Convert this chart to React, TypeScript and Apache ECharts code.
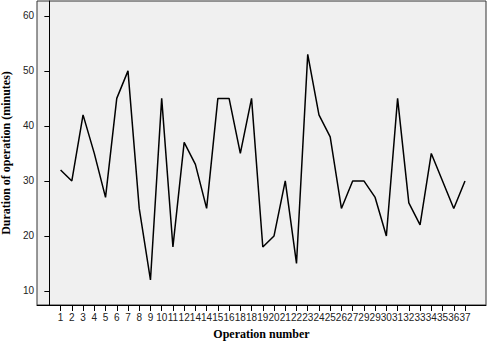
import React, { useEffect, useRef } from "react";
import * as echarts from "echarts";

const tickLabels = ["1","2","3","4","5","6","7","8","9","10","11","12","14","14","15","16","18","18","19","20","21","22","23","24","25","26","27","29","29","30","31","32","33","34","35","36","37"];
const durations = [32,30,42,35,27,45,50,25,12,45,18,37,33,25,45,45,35,45,18,20,30,15,53,42,38,25,30,30,27,20,45,26,22,35,30,25,30];
const yTicks = [10,20,30,40,50,60];

export default function App() {
  const ref = useRef<HTMLDivElement>(null);
  useEffect(() => {
    document.body.style.margin = "0";
    const chart = echarts.init(ref.current!, undefined, { renderer: "svg" });
    const xTicks = tickLabels.map((_, i) => i + 1);
    chart.setOption({
      animation: false,
      backgroundColor: "#ffffff",
      grid: {
        left: 37, top: 1, width: 449, height: 304,
        outerBoundsMode: "none",
        containLabel: false,
        show: true, backgroundColor: "#f0f0f0", borderColor: "#333333", borderWidth: 1,
      },
      xAxis: {
        type: "value",
        min: -1.1,
        max: 38.87,
        name: "Operation number",
        nameLocation: "middle",
        nameGap: 23,
        nameTextStyle: { fontFamily: "Liberation Serif", fontWeight: "bold", fontSize: 12, color: "#000" },
        axisLine: { show: true, lineStyle: { color: "#000", width: 1 } },
        axisTick: { show: true, customValues: xTicks, length: 6, lineStyle: { color: "#000", width: 1 } },
        axisLabel: {
          customValues: xTicks,
          formatter: (v: number) => tickLabels[Math.round(v) - 1] ?? "",
          fontFamily: "Liberation Sans", fontSize: 10, color: "#222", margin: 7,
        },
        splitLine: { show: false },
      },
      yAxis: {
        type: "value",
        min: 7.45,
        max: 62.7,
        name: "Duration of operation (minutes)",
        nameLocation: "middle",
        nameGap: 22,
        nameTextStyle: { fontFamily: "Liberation Serif", fontWeight: "bold", fontSize: 12, color: "#000" },
        axisLine: { show: true, lineStyle: { color: "#000", width: 1 } },
        axisTick: { show: true, customValues: yTicks, length: 5, lineStyle: { color: "#000", width: 1 } },
        axisLabel: { customValues: yTicks, fontFamily: "Liberation Sans", fontSize: 10, color: "#222", margin: 3 },
        splitLine: { show: false },
      },
      series: [{
        type: "line",
        data: durations.map((d, i) => [i + 1, d]),
        showSymbol: false,
        symbol: "none",
        lineStyle: { color: "#000", width: 1.5 },
      }],
    });
    return () => chart.dispose();
  }, []);
  return <div ref={ref} style={{ width: 488, height: 342 }} />;
}
